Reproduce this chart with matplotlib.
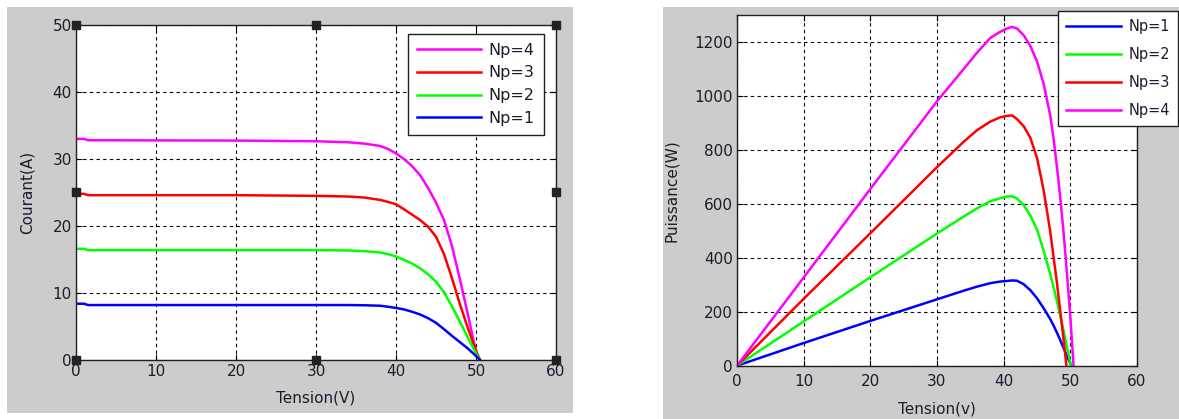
import matplotlib
matplotlib.use("Agg")
import matplotlib.pyplot as plt
from matplotlib.patches import Rectangle

v_iv = [0, 1, 1.5, 20, 30, 34, 36, 38, 39, 40, 41, 42, 43, 44, 45, 46, 47, 48, 49, 50, 50.5]
i_np1 = [8.4, 8.4, 8.2, 8.2, 8.2, 8.2, 8.17, 8.1, 7.95, 7.77, 7.55, 7.2, 6.8, 6.25, 5.55, 4.6, 3.6, 2.65, 1.7, 0.6, 0]
i_np2 = [16.6, 16.6, 16.4, 16.4, 16.4, 16.35, 16.25, 16.05, 15.8, 15.45, 14.95, 14.4, 13.7, 12.8, 11.7, 10.1, 8.0, 5.7, 3.3, 1.0, 0]
i_np3 = [24.8, 24.8, 24.6, 24.6, 24.5, 24.4, 24.25, 23.9, 23.6, 23.25, 22.5, 21.7, 20.9, 19.9, 18.4, 15.8, 12.2, 8.3, 4.7, 1.4, 0]
i_np4 = [33.0, 33.0, 32.8, 32.75, 32.65, 32.5, 32.3, 31.95, 31.5, 30.85, 30.0, 28.95, 27.6, 25.7, 23.5, 20.9, 17.0, 12.0, 6.7, 1.2, 0]

v_p = [0, 10, 20, 30, 34, 36, 38, 39.5, 40.5, 41.25, 42, 43, 44, 45, 46, 47, 47.5, 48, 48.5, 49, 49.5, 50, 50.5, 51]
p_np1 = [0, 84, 166, 246, 278, 293, 306, 312, 314, 316, 315, 302, 280, 250, 213, 172, 148, 122, 94, 65, 36, 8, -20, -45]
p_np2 = [0, 164, 328, 490, 553, 583, 610, 621, 627, 628, 620, 595, 557, 505, 426, 338, 290, 238, 184, 128, 70, 10, -55, -120]
p_np3 = [0, 248, 491, 736, 830, 873, 905, 921, 926, 928, 914, 888, 845, 770, 650, 495, 400, 305, 200, 95, -20, -140, -270, -400]
p_np4 = [0, 327, 655, 980, 1100, 1160, 1215, 1238, 1250, 1256, 1250, 1225, 1185, 1128, 1045, 925, 840, 735, 620, 490, 340, 180, -5, -200]

labels = ["Np=1", "Np=2", "Np=3", "Np=4"]
colors = ["#0000ff", "#00ff00", "#ff0000", "#ff00ff"]

plt.rcParams['font.family'] = ['DejaVu Sans']
plt.rcParams['font.size'] = 11
txt = '#1c1c2c'

W, H = 1179, 419
fig = plt.figure(figsize=(W / 100, H / 100), dpi=100)
fig.patch.set_facecolor('white')


def px_rect(x0, y0, x1, y1):
    return [x0 / W, 1 - y1 / H, (x1 - x0) / W, (y1 - y0) / H]


# fonds gris des deux captures
for x0, y0, x1, y1 in [(7, 7, 573, 413), (663, 7, 1179, 419)]:
    r = px_rect(x0, y0, x1, y1)
    fig.patches.append(Rectangle((r[0], r[1]), r[2], r[3], transform=fig.transFigure,
                                 facecolor='#cccccc', edgecolor='none', zorder=-10))


def style_axes(ax):
    ax.set_facecolor('white')
    ax.grid(True, color='black', linestyle=(0, (3, 3)), linewidth=0.8)
    ax.tick_params(direction='in', length=4, top=True, right=True, colors='black',
                   labelcolor=txt, labelsize=11, pad=3)
    for s in ax.spines.values():
        s.set_color('#202020')
        s.set_linewidth(1.0)
    ax.set_axisbelow(True)


# ---- gauche : I(V)
ax1 = fig.add_axes(px_rect(76, 25, 556, 360))
style_axes(ax1)
series_iv = [i_np1, i_np2, i_np3, i_np4]
lines1 = []
for k in [3, 2, 1, 0]:
    ln, = ax1.plot(v_iv, series_iv[k], color=colors[k], linewidth=1.8, label=labels[k])
    lines1.append(ln)
ax1.set_xlim(0, 60)
ax1.set_ylim(0, 50)
ax1.set_xticks(range(0, 61, 10))
ax1.set_yticks(range(0, 51, 10))
ax1.set_xlabel("Tension(V)", color=txt, fontsize=11, labelpad=8)
ax1.set_ylabel("Courant(A)", color=txt, fontsize=11, labelpad=13)

# poignées de sélection (figure MATLAB)
xl, yl = ax1.get_xlim(), ax1.get_ylim()
xm, ym = sum(xl) / 2, sum(yl) / 2
hx = [xl[0], xm, xl[1], xl[0], xl[1], xl[0], xm, xl[1]]
hy = [yl[0], yl[0], yl[0], ym, ym, yl[1], yl[1], yl[1]]
ax1.plot(hx, hy, linestyle='none', marker='s', markersize=6, color='#222222',
         clip_on=False, zorder=10)

leg1 = fig.legend(handles=lines1, loc='upper left',
                  bbox_to_anchor=(408 / W, 1 - 34 / H), borderaxespad=0,
                  fancybox=False, edgecolor='#202020', framealpha=1, fontsize=11.5,
                  handlelength=4.0, handletextpad=0.5, labelspacing=0.48, borderpad=0.55)
leg1.get_frame().set_linewidth(1.0)
for t in leg1.get_texts():
    t.set_color(txt)

# ---- droite : P(V)
ax2 = fig.add_axes(px_rect(737, 15, 1137, 365.7))
style_axes(ax2)
ax2.tick_params(axis='x', pad=6)
series_p = [p_np1, p_np2, p_np3, p_np4]
lines2 = []
for k in range(4):
    ln, = ax2.plot(v_p, series_p[k], color=colors[k], linewidth=1.8, label=labels[k])
    lines2.append(ln)
ax2.set_xlim(0, 60)
ax2.set_ylim(0, 1300)
ax2.set_xticks(range(0, 61, 10))
ax2.set_yticks(range(0, 1201, 200))
ax2.set_xlabel("Tension(v)", color=txt, fontsize=11, labelpad=9)
ax2.set_ylabel("Puissance(W)", color=txt, fontsize=11, labelpad=11)

leg2 = fig.legend(handles=lines2, loc='upper left',
                  bbox_to_anchor=(1058 / W, 1 - 11 / H), borderaxespad=0,
                  fancybox=False, edgecolor='#202020', framealpha=1, fontsize=10.5,
                  handlelength=3.8, handletextpad=0.5, labelspacing=0.9, borderpad=0.55)
leg2.get_frame().set_linewidth(1.0)
for t in leg2.get_texts():
    t.set_color(txt)

fig.savefig("out.png", dpi=100)
